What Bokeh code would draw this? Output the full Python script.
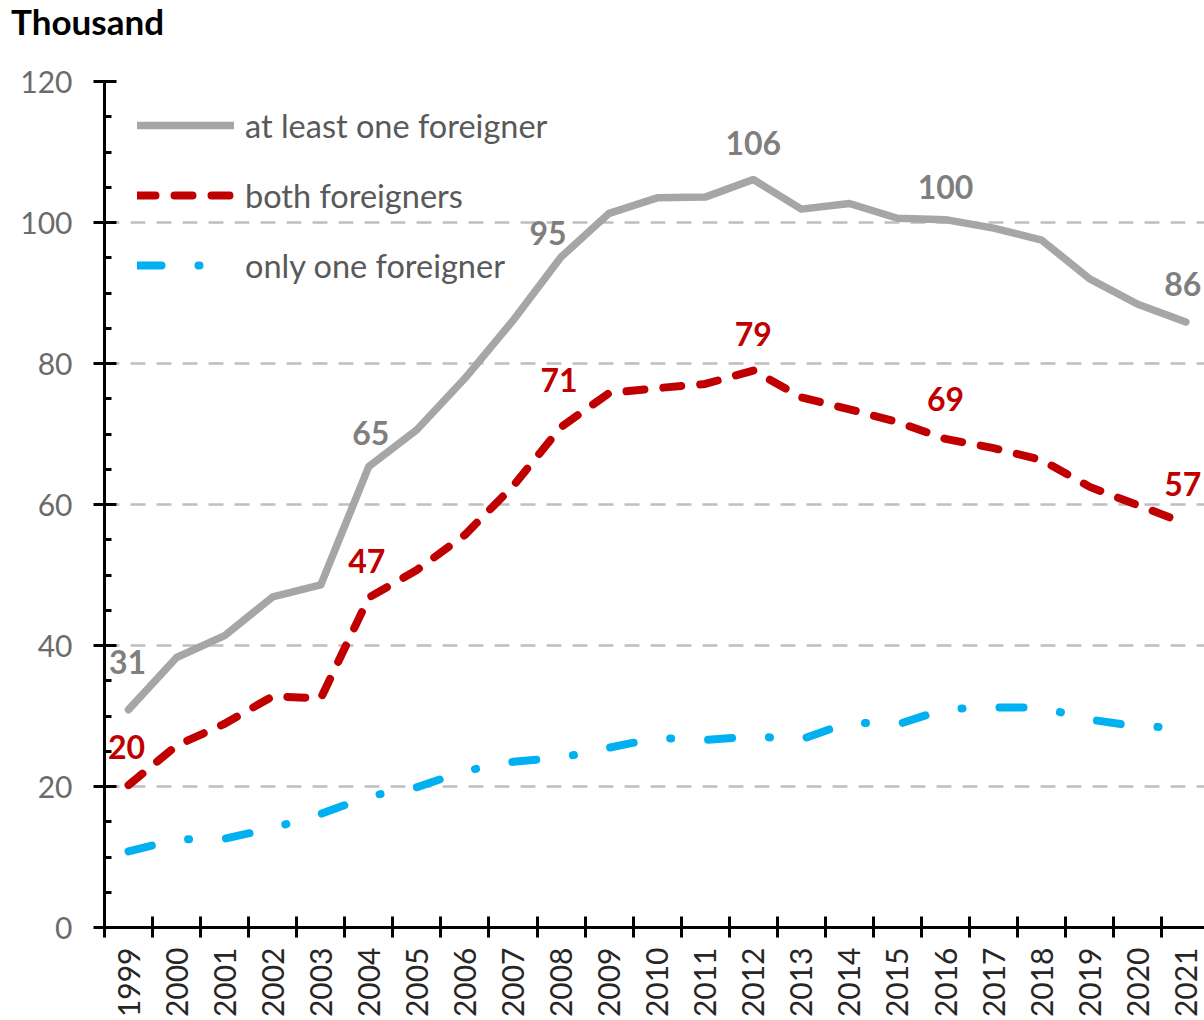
import numpy as np
from bokeh.plotting import figure
from bokeh.layouts import column
from bokeh.models import (Range1d, FixedTicker, SingleIntervalTicker, Legend,
                          LegendItem, ColumnDataSource, Div)
from bokeh.embed import file_html
from bokeh.resources import INLINE
from bokeh.core.properties import value

# ---------------- data ----------------
years = [str(y) for y in range(1999, 2022)]
at_least_one = [30.9, 38.3, 41.4, 46.9, 48.6, 65.4, 70.6, 77.9, 86.1, 95.1, 101.3, 103.5,
                103.6, 106.1, 101.9, 102.7, 100.6, 100.4, 99.2, 97.5, 92.0, 88.4, 85.9]
both = [20.2, 25.8, 28.9, 32.8, 32.5, 46.8, 50.7, 55.7, 62.6, 71.0, 75.8, 76.5,
        77.1, 79.0, 75.2, 73.5, 71.7, 69.3, 68.0, 66.3, 62.5, 59.9, 57.3]
only_one = [10.8, 12.5, 12.6, 14.1, 16.1, 18.6, 19.9, 22.2, 23.5, 24.1, 25.5, 26.9,
            26.6, 27.1, 26.7, 29.1, 28.8, 31.0, 31.2, 31.2, 29.5, 28.5, 28.4]

label_years = ["1999", "2004", "2008", "2012", "2016", "2021"]
gray_labels = ["31", "65", "95", "106", "100", "86"]
red_labels = ["20", "47", "71", "79", "69", "57"]

series_names = ["at least one foreigner", "both foreigners", "only one foreigner"]
title_text = "Thousand"

# ---------------- styles ----------------
GRAY = "#a6a6a6"
RED = "#c00000"
BLUE = "#00b0f0"
FONT = "Lato"
gray_dy = [48, 33, 24, 36, 33, 38]
gray_dx = [-1, 2, -13, 0, 0, -3]
red_dy = [38, 37, 47, 37, 40, 40]
red_dx = [-2, -2, -2, 0, 0, -3]

W, H = 1204, 1020
TITLE_H = 42
TOP, LEFT, FRAME_H = 81, 104, 847
PX_PER_CAT = 48.06
PH = H - TITLE_H

xs = list(range(len(years)))
idx = {y: i for i, y in enumerate(years)}

title = Div(text=title_text, width=W, height=TITLE_H, margin=(0, 0, 0, 0),
            styles={"font-family": FONT, "font-weight": "bold", "font-size": "35px",
                    "color": "black", "padding-left": "11px", "line-height": "1.2",
                    "margin": "0", "white-space": "nowrap"})

p = figure(width=W, height=PH, output_backend="svg", toolbar_location=None,
           x_range=Range1d(-0.5, -0.5 + (W - LEFT) / PX_PER_CAT), y_range=Range1d(0, 120),
           min_border_left=LEFT, min_border_right=0, min_border_top=TOP - TITLE_H,
           min_border_bottom=PH - (TOP - TITLE_H) - FRAME_H, margin=(0, 0, 0, 0))
p.outline_line_color = None
p.background_fill_color = "white"
p.border_fill_color = "white"

# grid
p.xgrid.visible = False
p.ygrid.grid_line_color = "#bfbfbf"
p.ygrid.grid_line_width = 2.5
p.ygrid.grid_line_dash = "15 11"

# y axis
p.yaxis.ticker = SingleIntervalTicker(interval=20, num_minor_ticks=4)
p.yaxis.axis_line_width = 3
p.yaxis.axis_line_color = "black"
p.yaxis.major_tick_line_width = 3
p.yaxis.minor_tick_line_width = 3
p.yaxis.major_tick_line_color = "black"
p.yaxis.minor_tick_line_color = "black"
p.yaxis.major_tick_in = 12
p.yaxis.major_tick_out = 11
p.yaxis.minor_tick_in = 7
p.yaxis.minor_tick_out = 0
p.yaxis.major_label_standoff = 21
p.yaxis.major_label_text_font = FONT
p.yaxis.major_label_text_font_size = "30px"
p.yaxis.major_label_text_color = "#6b6b6b"

# x axis
p.xaxis.ticker = FixedTicker(ticks=xs, minor_ticks=[i - 0.5 for i in range(len(years) + 1)])
p.xaxis.major_label_overrides = {i: y for i, y in zip(xs, years)}
p.xaxis.major_label_orientation = np.pi / 2
p.xaxis.axis_line_width = 3
p.xaxis.axis_line_color = "black"
p.xaxis.major_tick_in = 0
p.xaxis.major_tick_out = 0
p.xaxis.minor_tick_in = 11
p.xaxis.minor_tick_out = 10
p.xaxis.minor_tick_line_width = 3
p.xaxis.minor_tick_line_color = "black"
p.xaxis.major_label_standoff = 10
p.xaxis.major_label_text_font = FONT
p.xaxis.major_label_text_font_size = "30px"
p.xaxis.major_label_text_color = "#262626"

# lines
r_gray = p.line(xs, at_least_one, line_color=GRAY, line_width=7.5,
                line_cap="round", line_join="round")
r_red = p.line(xs, both, line_color=RED, line_width=8, line_dash="18 19",
               line_cap="round", line_join="round")
r_blue = p.line(xs, only_one, line_color=BLUE, line_width=8, line_dash="24 37 1 37",
                line_cap="round", line_join="round")

# data labels
gsrc = ColumnDataSource(dict(
    x=[idx[y] for y in label_years],
    y=[at_least_one[idx[y]] for y in label_years],
    t=gray_labels, dx=gray_dx, dy=[-d for d in gray_dy]))
rsrc = ColumnDataSource(dict(
    x=[idx[y] for y in label_years],
    y=[both[idx[y]] for y in label_years],
    t=red_labels, dx=red_dx, dy=[-d for d in red_dy]))
for src, col in ((gsrc, "#7f7f7f"), (rsrc, RED)):
    p.text(x="x", y="y", text="t", x_offset="dx", y_offset="dy", source=src,
           text_color=col, text_font=value(FONT), text_font_style="bold",
           text_font_size="32px", text_align="center", text_baseline="middle")

# legend
legend = Legend(items=[LegendItem(label=series_names[0], renderers=[r_gray]),
                       LegendItem(label=series_names[1], renderers=[r_red]),
                       LegendItem(label=series_names[2], renderers=[r_blue])],
                location=(33, 642), glyph_width=97, glyph_height=40, label_height=40,
                spacing=30, padding=0, margin=0, label_standoff=11,
                label_text_font=FONT, label_text_font_size="32.5px",
                label_text_color="#595959", border_line_color=None,
                background_fill_alpha=0)
p.add_layout(legend)

layout = column(title, p, spacing=0, margin=(0, 0, 0, 0))
open("out.html", "w").write(file_html(layout, INLINE))
